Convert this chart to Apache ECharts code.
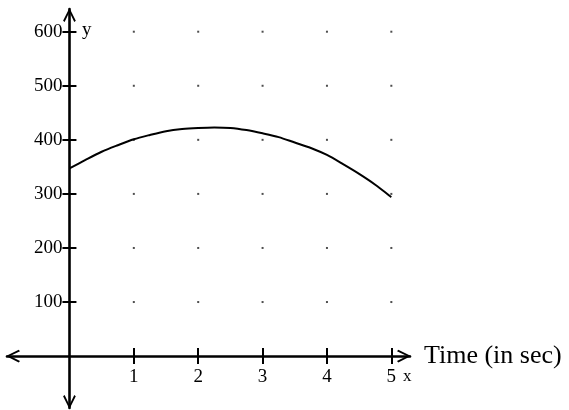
<!DOCTYPE html>
<html>
<head>
<meta charset="utf-8">
<script src="https://cdn.jsdelivr.net/npm/echarts@6/dist/echarts.min.js"></script>
<style>
html,body{margin:0;padding:0;background:#fff;}
#chart{width:569px;height:410px;}
</style>
</head>
<body>
<div id="chart"></div>
<script>
// Data
var timeValues = [0, 0.25, 0.5, 0.75, 1, 1.25, 1.5, 1.75, 2, 2.25, 2.5, 2.75, 3, 3.25, 3.5, 3.75, 4, 4.25, 4.5, 4.75, 5];
var heightValues = [347, 363, 378, 390, 401, 409, 416, 420, 422, 423, 422, 418, 412, 405, 395, 385, 372, 355, 337, 317, 294];
var xTicks = [1, 2, 3, 4, 5];
var yTicks = [100, 200, 300, 400, 500, 600];
var xAxisName = 'Time (in sec)';
var xLetter = 'x';
var yLetter = 'y';

var curve = timeValues.map(function (t, i) { return [t, heightValues[i]]; });
var dots = [];
xTicks.forEach(function (x) { yTicks.forEach(function (y) { dots.push([x, y]); }); });

var FONT = '"Liberation Serif", "Times New Roman", serif';
var chevron = 'path://M0,10 L5,0 L10,10 L8.8,11 L5,3.2 L1.2,11 Z';

var XMIN = -0.97, XMAX = 5.29, YMIN = -96, YMAX = 642;
var GL = 7, GT = 9, GW = 403, GH = 399;
// offsets that move the axes onto the zero lines
var yOff = -(0 - XMIN) / (XMAX - XMIN) * GW;
var xOff = -(0 - YMIN) / (YMAX - YMIN) * GH;

function xAx(main) {
  return {
    type: 'value', min: XMIN, max: XMAX, position: 'bottom', offset: xOff,
    axisLine: main ? { show: true, onZero: false, lineStyle: { color: '#000', width: 2.6 },
      symbol: [chevron, chevron], symbolSize: [24, 14], symbolOffset: [6, -6] } : { show: false, onZero: false },
    axisTick: { show: true, inside: main, length: 8, customValues: xTicks,
      lineStyle: { color: '#000', width: 2 } },
    axisLabel: main ? { show: true, customValues: xTicks, margin: 11,
      fontFamily: FONT, fontSize: 19, color: '#000' } : { show: false },
    splitLine: { show: false },
    name: main ? xAxisName : '', nameLocation: 'end', nameGap: 14,
    nameTextStyle: { fontFamily: FONT, fontSize: 26, color: '#000' }
  };
}
function yAx(main) {
  return {
    type: 'value', min: YMIN, max: YMAX, position: 'left', offset: yOff,
    axisLine: main ? { show: true, onZero: false, lineStyle: { color: '#000', width: 2.6 },
      symbol: [chevron, chevron], symbolSize: [24, 14], symbolOffset: [6, -6] } : { show: false, onZero: false },
    axisTick: { show: true, inside: main, length: 7, customValues: yTicks,
      lineStyle: { color: '#000', width: 2 } },
    axisLabel: main ? { show: true, customValues: yTicks, margin: 7,
      fontFamily: FONT, fontSize: 19, color: '#000' } : { show: false },
    splitLine: { show: false }
  };
}

var chart = echarts.init(document.getElementById('chart'), null, { renderer: 'canvas' });
chart.setOption({
  animation: false,
  backgroundColor: '#fff',
  grid: { left: GL, top: GT, width: GW, height: GH, containLabel: false, outerBoundsMode: 'none' },
  xAxis: [xAx(true), xAx(false)],
  yAxis: [yAx(true), yAx(false)],
  series: [
    { type: 'scatter', data: dots, symbol: 'rect', symbolSize: 2,
      itemStyle: { color: '#222' }, silent: true, xAxisIndex: 0, yAxisIndex: 0 },
    { type: 'line', data: curve, smooth: 0.3, showSymbol: false, symbol: 'none',
      lineStyle: { color: '#000', width: 2 }, xAxisIndex: 0, yAxisIndex: 0 }
  ],
  graphic: [
    { type: 'text', left: 82, top: 21, style: { text: yLetter, font: '19px ' + FONT, fill: '#000' } },
    { type: 'text', left: 403, top: 368, style: { text: xLetter, font: '17px ' + FONT, fill: '#000' } }
  ]
});
</script>
</body>
</html>
